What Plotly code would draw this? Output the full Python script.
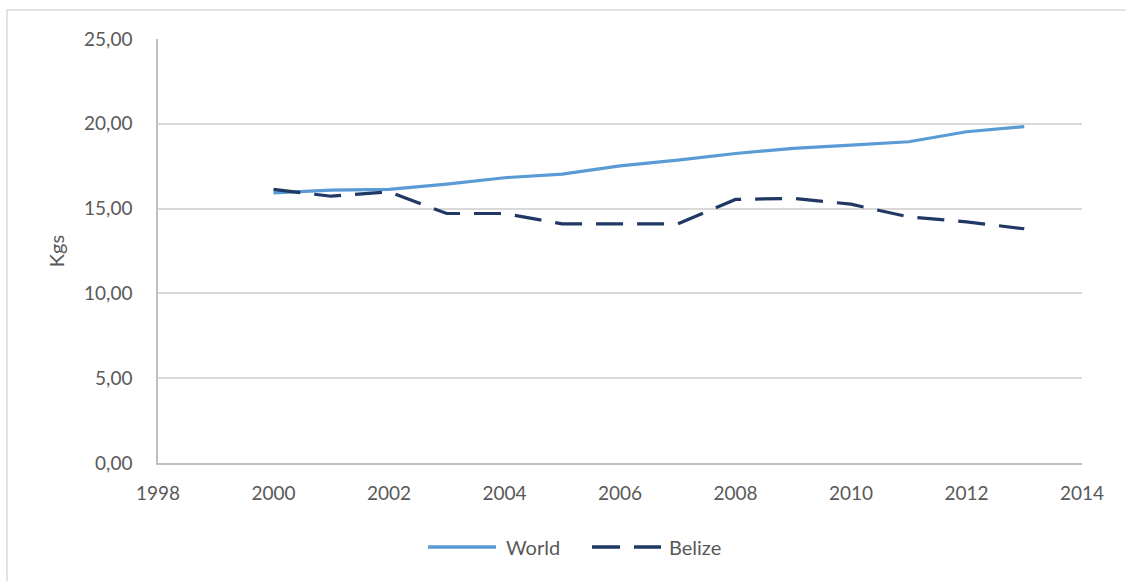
import plotly.graph_objects as go

# Annual values (Kgs)
years = [2000, 2001, 2002, 2003, 2004, 2005, 2006, 2007, 2008, 2009, 2010, 2011, 2012, 2013]
world = [15.93, 16.09, 16.13, 16.44, 16.82, 17.03, 17.52, 17.86, 18.25, 18.55, 18.74, 18.94, 19.53, 19.83]
belize = [16.13, 15.73, 15.99, 14.71, 14.71, 14.10, 14.10, 14.10, 15.54, 15.60, 15.26, 14.51, 14.22, 13.81]

FONT = "Lato, 'Open Sans', sans-serif"
TEXT = "#595959"
WORLD_C = "#5B9BD5"
BELIZE_C = "#1F3864"

W, H = 1126, 581
L, R, T, B = 158, 44, 39, 118
PW, PH = W - L - R, H - T - B


def px(x):
    """pixel column -> paper x"""
    return (x - L) / PW


def py(y):
    """pixel row -> paper y"""
    return (H - B - y) / PH


fig = go.Figure()
fig.add_trace(go.Scatter(
    x=years, y=world, name="World", mode="lines",
    line=dict(color=WORLD_C, width=3.2),
))
fig.add_trace(go.Scatter(
    x=years, y=belize, name="Belize", mode="lines",
    line=dict(color=BELIZE_C, width=3.2, dash="27px,14px"),
))

# light frame around the chart
fig.add_shape(type="rect", xref="paper", yref="paper",
              x0=px(7), x1=px(1135), y0=py(600), y1=py(10),
              line=dict(color="#D9D9D9", width=1.5), layer="below")

# legend drawn below the plot
ly = py(547)
fig.add_shape(type="line", xref="paper", yref="paper",
              x0=px(428), x1=px(496), y0=ly, y1=ly,
              line=dict(color=WORLD_C, width=3.5))
fig.add_annotation(xref="paper", yref="paper", x=px(504), y=ly,
                   text="World", showarrow=False, xanchor="left", yanchor="middle",
                   font=dict(family=FONT, size=20, color=TEXT))
for a, b in [(592, 620), (634, 661)]:
    fig.add_shape(type="line", xref="paper", yref="paper",
                  x0=px(a), x1=px(b), y0=ly, y1=ly,
                  line=dict(color=BELIZE_C, width=3.5))
fig.add_annotation(xref="paper", yref="paper", x=px(667), y=ly,
                   text="Belize", showarrow=False, xanchor="left", yanchor="middle",
                   font=dict(family=FONT, size=20, color=TEXT))

fig.update_layout(
    width=W, height=H,
    margin=dict(l=L, r=R, t=T, b=B),
    paper_bgcolor="white", plot_bgcolor="white",
    separators=", ",
    font=dict(family=FONT, size=19, color=TEXT),
    showlegend=False,
    xaxis=dict(range=[1998, 2014], dtick=2, tick0=1998, showgrid=False,
               showline=True, linecolor="#BFBFBF", linewidth=1.5,
               ticks="", ticklabelstandoff=12, zeroline=False),
    yaxis=dict(range=[0, 25], dtick=5, tickformat=".2f",
               showgrid=True, gridcolor="#D9D9D9", gridwidth=1.5,
               showline=True, linecolor="#BFBFBF", linewidth=1.5,
               ticks="", ticklabelstandoff=20, zeroline=False,
               title=dict(text="Kgs", font=dict(size=20, color=TEXT), standoff=14)),
)

fig.write_html("out.html")
